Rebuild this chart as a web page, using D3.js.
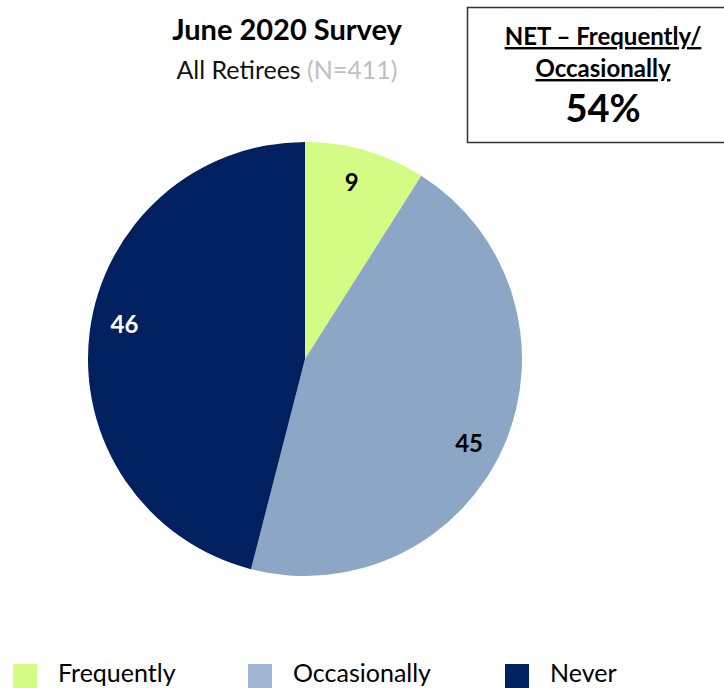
<!DOCTYPE html>
<html>
<head>
<meta charset="utf-8">
<script src="https://cdn.jsdelivr.net/npm/d3@7"></script>
<style>
  html, body { margin: 0; padding: 0; background: #fff; }
  svg { display: block; font-family: "Lato", "Open Sans", sans-serif; }
</style>
</head>
<body>
<svg id="chart" width="724" height="688"></svg>
<script>
// Survey responses (percent of all retirees)
const categories = ["Frequently", "Occasionally", "Never"];
const values = [9, 45, 46];
const netValue = 54;
const sampleSize = 411;

const sliceColors = ["#d4fb84", "#8ba7c5", "#00205f"];
const swatchColors = ["#d4fb84", "#a0b6d3", "#00205f"];
const labelColors = ["#000", "#000", "#fff"];
// angular nudge (degrees) applied to each value label
const labelNudge = [-1.5, 3.5, 3.8];

const svg = d3.select("#chart");

const cx = 305, cy = 359, radius = 217;

const pie = d3.pie().sort(null).value(d => d.value);
const arcs = pie(categories.map((c, i) => ({ name: c, value: values[i], i })));

const arc = d3.arc().innerRadius(0).outerRadius(radius);
const labelR = 184;
const labelPos = d => {
  const a = (d.startAngle + d.endAngle) / 2 + labelNudge[d.data.i] * Math.PI / 180;
  return [labelR * Math.sin(a), -labelR * Math.cos(a)];
};

const g = svg.append("g").attr("transform", `translate(${cx},${cy})`);

g.selectAll("path.slice")
  .data(arcs)
  .join("path")
  .attr("class", "slice")
  .attr("d", arc)
  .attr("fill", d => sliceColors[d.data.i]);

g.selectAll("text.val")
  .data(arcs)
  .join("text")
  .attr("class", "val")
  .attr("transform", d => `translate(${labelPos(d)})`)
  .attr("text-anchor", "middle")
  .attr("dominant-baseline", "central")
  .attr("font-size", 24)
  .attr("font-weight", 700)
  .attr("fill", d => labelColors[d.data.i])
  .text(d => d.data.value);

// Title block
svg.append("text")
  .attr("x", 287).attr("y", 40)
  .attr("text-anchor", "middle")
  .attr("font-size", 29).attr("font-weight", 700)
  .attr("fill", "#000")
  .text("June 2020 Survey");

const sub = svg.append("text")
  .attr("x", 287).attr("y", 79)
  .attr("text-anchor", "middle")
  .attr("font-size", 25)
  .attr("fill", "#111");
sub.append("tspan").text("All Retirees ");
sub.append("tspan").attr("fill", "#c0c0c0").text(`(N=${sampleSize})`);

// NET callout box
svg.append("rect")
  .attr("x", 467.5).attr("y", 7.5)
  .attr("width", 262).attr("height", 135)
  .attr("fill", "#fff")
  .attr("stroke", "#333").attr("stroke-width", 1.5);

const boxX = 603;
[["NET \u2013 Frequently/", 45], ["Occasionally", 77]].forEach(([t, y]) => {
  svg.append("text")
    .attr("x", boxX).attr("y", y)
    .attr("text-anchor", "middle")
    .attr("font-size", 24).attr("font-weight", 700)
    .attr("text-decoration", "underline")
    .attr("fill", "#000")
    .text(t);
});
svg.append("text")
  .attr("x", boxX).attr("y", 122)
  .attr("text-anchor", "middle")
  .attr("font-size", 38).attr("font-weight", 700)
  .attr("fill", "#000")
  .text(`${netValue}%`);

// Legend
const legendX = [13, 248, 505];
const legend = svg.selectAll("g.legend")
  .data(categories)
  .join("g")
  .attr("class", "legend")
  .attr("transform", (d, i) => `translate(${legendX[i]},664)`);

legend.append("rect")
  .attr("width", 24).attr("height", 24)
  .attr("fill", (d, i) => swatchColors[i]);

legend.append("text")
  .attr("x", 45).attr("y", 18)
  .attr("font-size", 25)
  .attr("fill", "#000")
  .text(d => d);
</script>
</body>
</html>
